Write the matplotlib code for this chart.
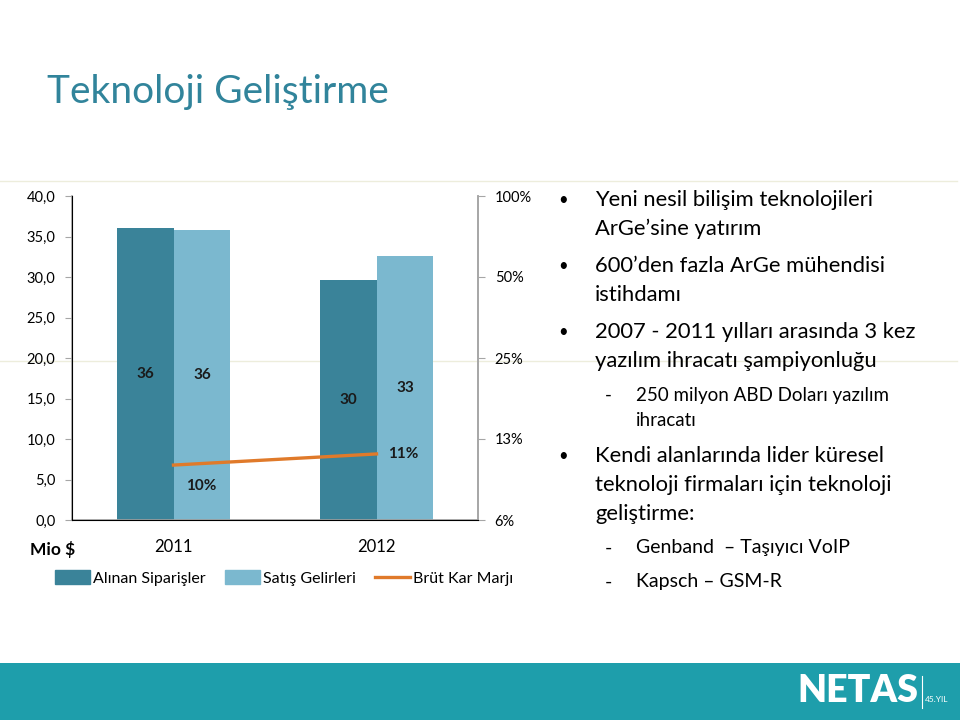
import numpy as np
import matplotlib.pyplot as plt
from matplotlib.lines import Line2D
from matplotlib.patches import Rectangle, Patch

plt.rcParams['font.family'] = ['Lato', 'DejaVu Sans']

# data
years = ['2011', '2012']
siparis = [36.0, 29.6]          # Alınan Siparişler (Mio $)
satis = [35.8, 32.6]            # Satış Gelirleri (Mio $)
siparis_labels = ['36', '30']
satis_labels = ['36', '33']
marj = [0.10, 0.11]             # Brüt Kar Marjı
marj_labels = ['10%', '11%']
left_ticks = [0, 5, 10, 15, 20, 25, 30, 35, 40]
right_ticks = [0.0625, 0.125, 0.25, 0.5, 1.0]
right_labels = ['6%', '13%', '25%', '50%', '100%']

bullets = [
    ['Yeni nesil bilişim teknolojileri', 'ArGe\u2019sine yatırım'],
    ['600\u2019den fazla ArGe mühendisi', 'istihdamı'],
    ['2007 - 2011 yılları arasında 3 kez', 'yazılım ihracatı şampiyonluğu'],
]
sub1 = ['250 milyon ABD Doları yazılım', 'ihracatı']
bullet4 = ['Kendi alanlarında lider küresel', 'teknoloji firmaları için teknoloji', 'geliştirme:']
sub2 = ['Genband  \u2013 Taşıyıcı VoIP', 'Kapsch \u2013 GSM-R']

dark = '#3A8399'
light = '#7BB8CF'
orange = '#E07A2A'
teal = '#31849B'
W, H = 960, 720

fig = plt.figure(figsize=(9.6, 7.2), dpi=100)


def fx(px):
    return px / W


def fy(py):
    return 1 - py / H


# faint slide guide lines (behind everything)
for yy in [181, 361]:
    fig.add_artist(Line2D([0, 0.997], [fy(yy), fy(yy)], color='#EDEDDC', lw=1, zorder=-5))

fig.text(fx(47), fy(92), 'Teknoloji Geliştirme', fontsize=28, color=teal,
         va='center', ha='left')

ax = fig.add_axes([fx(72), fy(520), fx(478) - fx(72), fy(196) - fy(520)])
x = np.arange(len(years))
w = 0.28
b1 = ax.bar(x - w / 2, siparis, w, color=dark, zorder=2)
b2 = ax.bar(x + w / 2, satis, w, color=light, zorder=2)
for bars, labs in [(b1, siparis_labels), (b2, satis_labels)]:
    for r, lab in zip(bars, labs):
        ax.text(r.get_x() + r.get_width() / 2, r.get_height() / 2, lab,
                ha='center', va='center', fontsize=11, fontweight='bold',
                color='#1a1a1a', zorder=3)

ax.set_xlim(-0.5, 1.5)
ax.set_ylim(0, 40)
ax.set_yticks(left_ticks)
ax.set_yticklabels([f'{v:.1f}'.replace('.', ',') for v in left_ticks], fontsize=10.5)
ax.set_xticks(x)
ax.set_xticklabels(years, fontsize=12)
ax.tick_params(axis='x', length=0, pad=14)
ax.set_xticks([0.5], minor=True)
ax.tick_params(axis='x', which='minor', length=5, color='#A6A6A6')
ax.tick_params(axis='y', length=5, color='#A6A6A6', pad=7)
ax.spines['top'].set_visible(False)
for s in ['left', 'bottom', 'right']:
    ax.spines[s].set_color('#A6A6A6')
    ax.spines[s].set_linewidth(1.2)
ax.set_facecolor('none')

ax2 = ax.twinx()
ax2.set_yscale('log', base=2)
ax2.set_ylim(0.0625, 1.0)
ax2.set_yticks(right_ticks)
ax2.set_yticklabels(right_labels, fontsize=10.5)
ax2.minorticks_off()
ax2.tick_params(axis='y', length=5, color='#A6A6A6', pad=7)
ax2.spines['top'].set_visible(False)
ax2.spines['right'].set_color('#A6A6A6')
ax2.spines['right'].set_linewidth(1.2)
ax2.plot(x, marj, color=orange, lw=2.4, zorder=4)
ax2.annotate(marj_labels[0], (x[0], marj[0]), xytext=(20, -15),
             textcoords='offset points', ha='center', va='center',
             fontsize=11, fontweight='bold', color='#1a1a1a')
ax2.annotate(marj_labels[1], (x[1], marj[1]), xytext=(19, 0),
             textcoords='offset points', ha='center', va='center',
             fontsize=11, fontweight='bold', color='#1a1a1a')

fig.text(fx(30), fy(550), 'Mio $', fontsize=12.5, fontweight='bold',
         ha='left', va='center')

handles = [Patch(color=dark), Patch(color=light),
           Line2D([0], [0], color=orange, lw=2.4)]
fig.legend(handles, ['Alınan Siparişler', 'Satış Gelirleri', 'Brüt Kar Marjı'],
           loc='center', bbox_to_anchor=(fx(284), fy(578)), ncol=3,
           frameon=False, fontsize=11.5, handlelength=2.2, handleheight=1.0,
           handletextpad=0.2, columnspacing=1.2)

# bullet text
fs_main = 15.8
fs_sub = 13.5
y = 200
for lines in bullets:
    fig.text(fx(563), fy(y), '\u2022', fontsize=12, ha='center', va='center')
    for ln in lines:
        fig.text(fx(595), fy(y), ln, fontsize=fs_main, ha='left', va='center')
        y += 29
    y += 8
y = 395
fig.text(fx(608), fy(y), '-', fontsize=fs_sub, ha='center', va='center')
for ln in sub1:
    fig.text(fx(636), fy(y), ln, fontsize=fs_sub, ha='left', va='center')
    y += 26
y = 456
fig.text(fx(563), fy(y), '\u2022', fontsize=12, ha='center', va='center')
for ln in bullet4:
    fig.text(fx(595), fy(y), ln, fontsize=fs_main, ha='left', va='center')
    y += 29
y = 548
for ln in sub2:
    fig.text(fx(608), fy(y), '-', fontsize=14, ha='center', va='center')
    fig.text(fx(636), fy(y), ln, fontsize=14, ha='left', va='center')
    y += 34

# footer band
fig.add_artist(Rectangle((0, 0), 1, fy(663), transform=fig.transFigure,
                         color='#1E9EAB', lw=0))
fig.text(fx(918), fy(691), 'NETAS', fontsize=27, fontweight='heavy',
         color='white', ha='right', va='center')
fig.add_artist(Line2D([fx(922), fx(922)], [fy(676), fy(708)], color='white', lw=0.8))
fig.text(fx(925), fy(700), '45.YIL', fontsize=6, color='white', ha='left', va='center')

fig.savefig('out.png', dpi=100)
